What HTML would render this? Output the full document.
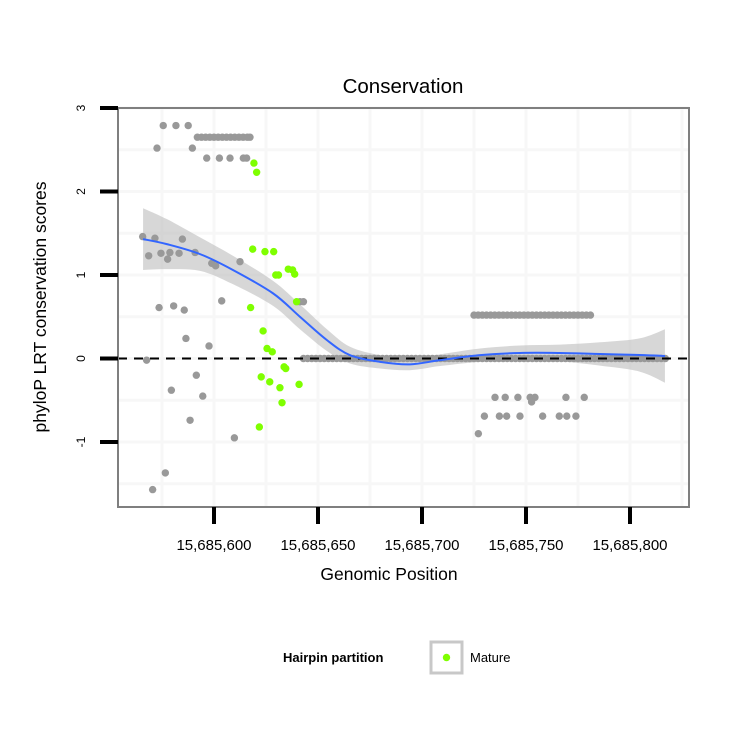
<!DOCTYPE html>
<html><head><meta charset="utf-8"><style>
body{margin:0;background:#fff;}
svg{display:block;font-family:"Liberation Sans",sans-serif;}
</style></head><body>
<svg id="chart" width="750" height="750" viewBox="0 0 750 750">
<rect width="750" height="750" fill="#fff"/>
<g id="grid"></g>
<g id="ribbon"></g>
<g id="points"></g>
<line id="zeroline" stroke="#000" stroke-width="2" stroke-dasharray="9,7"/>
<g id="smooth"></g>
<rect x="118" y="108" width="571" height="399" fill="none" stroke="#7f7f7f" stroke-width="2"/>
<g id="axes"></g>
<text x="403" y="93" font-size="20.5" text-anchor="middle">Conservation</text>
<text x="389" y="580" font-size="17.5" text-anchor="middle">Genomic Position</text>
<text transform="translate(46,307) rotate(-90)" font-size="17.5" text-anchor="middle">phyloP LRT conservation scores</text>
<g>
<text x="283" y="662" font-size="13" font-weight="bold">Hairpin partition</text>
<rect x="431" y="642" width="31" height="31" fill="#fff" stroke="#c8c8c8" stroke-width="3"/>
<circle cx="446.5" cy="657.5" r="3.7" fill="#7fff00"/>
<text x="470" y="662" font-size="13">Mature</text>
</g>
</svg>
<script>
// positions are offsets from 15,685,000
const xTicks=[600,650,700,750,800];
const xTickLabels=["15,685,600","15,685,650","15,685,700","15,685,750","15,685,800"];
const yTicks=[-1,0,1,2,3];
const yTickLabels=["-1","0","1","2","3"];
const grayX=[565.7,571.6,568.6,574.5,577.7,578.8,583.2,584.8,590.9,598.9,600.8,612.5,603.7,641.3,643,573.6,580.6,585.7,586.5,597.6,567.6,591.5,579.5,594.6,588.5,609.8,576.6,570.5,575.6,581.7,587.6,572.6,589.6,592,594,596,598,600,602,604,606,608,610,612,614,616,617.3,596.5,602.6,607.7,614.1,615.7,735.1,740,746.1,752,754.3,769.2,778,730,737.2,740.7,747.1,758,766,769.6,774,727.1,752.7];
const grayY=[1.46,1.44,1.23,1.26,1.19,1.27,1.26,1.43,1.27,1.14,1.11,1.16,0.69,0.68,0.68,0.61,0.63,0.58,0.24,0.15,-0.02,-0.2,-0.38,-0.45,-0.74,-0.95,-1.37,-1.57,2.79,2.79,2.79,2.52,2.52,2.65,2.65,2.65,2.65,2.65,2.65,2.65,2.65,2.65,2.65,2.65,2.65,2.65,2.65,2.4,2.4,2.4,2.4,2.4,-0.465,-0.465,-0.465,-0.465,-0.465,-0.465,-0.465,-0.69,-0.69,-0.69,-0.69,-0.69,-0.69,-0.69,-0.69,-0.9,-0.52];
const bandZeroStart=643, bandZeroEnd=817, bandZeroStep=2;
const bandTopStart=725, bandTopEnd=781, bandTopStep=2, bandTopValue=0.52;
const greenX=[619.2,620.5,618.6,624.5,628.7,629.7,631,635.7,637.8,638.8,639.7,617.6,623.6,625.5,628,633.7,634.5,622.7,626.8,631.7,640.9,632.7,621.8];
const greenY=[2.34,2.23,1.31,1.28,1.28,1.0,1.0,1.07,1.06,1.01,0.68,0.61,0.33,0.12,0.08,-0.1,-0.12,-0.22,-0.28,-0.35,-0.31,-0.53,-0.82];
const fitX=[565.9,577.3,593.3,609.1,628.4,641.3,654.3,665.4,679.8,694.2,708.7,727.9,747.1,766.3,785.6,804.8,816.8];
const fitY=[1.43,1.37,1.25,1.06,0.78,0.5,0.22,0.04,-0.04,-0.07,-0.02,0.04,0.066,0.066,0.054,0.042,0.03];
const fitSE=[0.37,0.3,0.2,0.17,0.15,0.15,0.13,0.1,0.08,0.07,0.07,0.08,0.09,0.1,0.14,0.2,0.32];

const NS="http://www.w3.org/2000/svg";
const X0=118,X1=689,Y0=108,Y1=507;
function sx(v){return 214+(v-600)*2.08;}
function sy(v){return 358.5-v*83.5;}
function mk(tag,attrs,parent){const e=document.createElementNS(NS,tag);for(const k in attrs)e.setAttribute(k,attrs[k]);parent.appendChild(e);return e;}
function smoothPath(pts){let d='M'+pts[0][0]+','+pts[0][1];
 for(let i=0;i<pts.length-1;i++){const p0=pts[i-1]||pts[i],p1=pts[i],p2=pts[i+1],p3=pts[i+2]||p2;
  d+='C'+(p1[0]+(p2[0]-p0[0])/6)+','+(p1[1]+(p2[1]-p0[1])/6)+' '+(p2[0]-(p3[0]-p1[0])/6)+','+(p2[1]-(p3[1]-p1[1])/6)+' '+p2[0]+','+p2[1];}
 return d;}

const grid=document.getElementById('grid');
for(let v=575;v<=825;v+=25){const px=sx(v);if(px<X0||px>X1)continue;
 const l=mk('line',{x1:px,x2:px,y1:Y0,y2:Y1,stroke:'#f7f7f7','stroke-width':3},grid);
 
 }
for(let v=-1.5;v<=3;v+=0.5){const py=sy(v);if(py<Y0||py>Y1)continue;
 const l=mk('line',{x1:X0,x2:X1,y1:py,y2:py,stroke:'#f7f7f7','stroke-width':3},grid);
 
 }

const rb=document.getElementById('ribbon');
const up=fitX.map((x,i)=>[sx(x),sy(fitY[i]+fitSE[i])]);
const lo=fitX.map((x,i)=>[sx(x),sy(fitY[i]-fitSE[i])]).reverse();
const rp=mk('path',{d:smoothPath(up)+'L'+smoothPath(lo).slice(1)+'Z',fill:'#bebebe','fill-opacity':0.62},rb);



const pts=document.getElementById('points');
function dot(x,y,c,name){const e=mk('circle',{cx:sx(x),cy:sy(y),r:3.7,fill:c},pts);
 
 }
for(let x=bandZeroStart;x<=bandZeroEnd;x+=bandZeroStep)dot(x,0,'#999999','point-background');
for(let x=bandTopStart;x<=bandTopEnd;x+=bandTopStep)dot(x,bandTopValue,'#999999','point-background');
grayX.forEach((x,i)=>dot(x,grayY[i],'#999999','point-background'));
greenX.forEach((x,i)=>dot(x,greenY[i],'#7fff00','point-mature'));

const zl=document.getElementById('zeroline');
zl.setAttribute('x1',X0);zl.setAttribute('x2',X1);zl.setAttribute('y1',sy(0));zl.setAttribute('y2',sy(0));

const sm=document.getElementById('smooth');
const sp=mk('path',{d:smoothPath(fitX.map((x,i)=>[sx(x),sy(fitY[i])])),fill:'none',stroke:'#3366ff','stroke-width':2,'stroke-linejoin':'round'},sm);



const ax=document.getElementById('axes');
xTicks.forEach((v,i)=>{const px=sx(v);
 const t=mk('line',{x1:px,x2:px,y1:Y1,y2:524,stroke:'#000','stroke-width':4},ax);
 
 
 const l=mk('text',{x:px,y:550,'font-size':15,'text-anchor':'middle'},ax);l.textContent=xTickLabels[i];
 
 });
yTicks.forEach((v,i)=>{const py=sy(v);
 const t=mk('line',{x1:100,x2:X0,y1:py,y2:py,stroke:'#000','stroke-width':4},ax);
 
 
 const l=mk('text',{transform:`translate(85,${py}) rotate(-90)`,'font-size':12,'text-anchor':'middle'},ax);l.textContent=yTickLabels[i];
 
 });
</script>
</body></html>
